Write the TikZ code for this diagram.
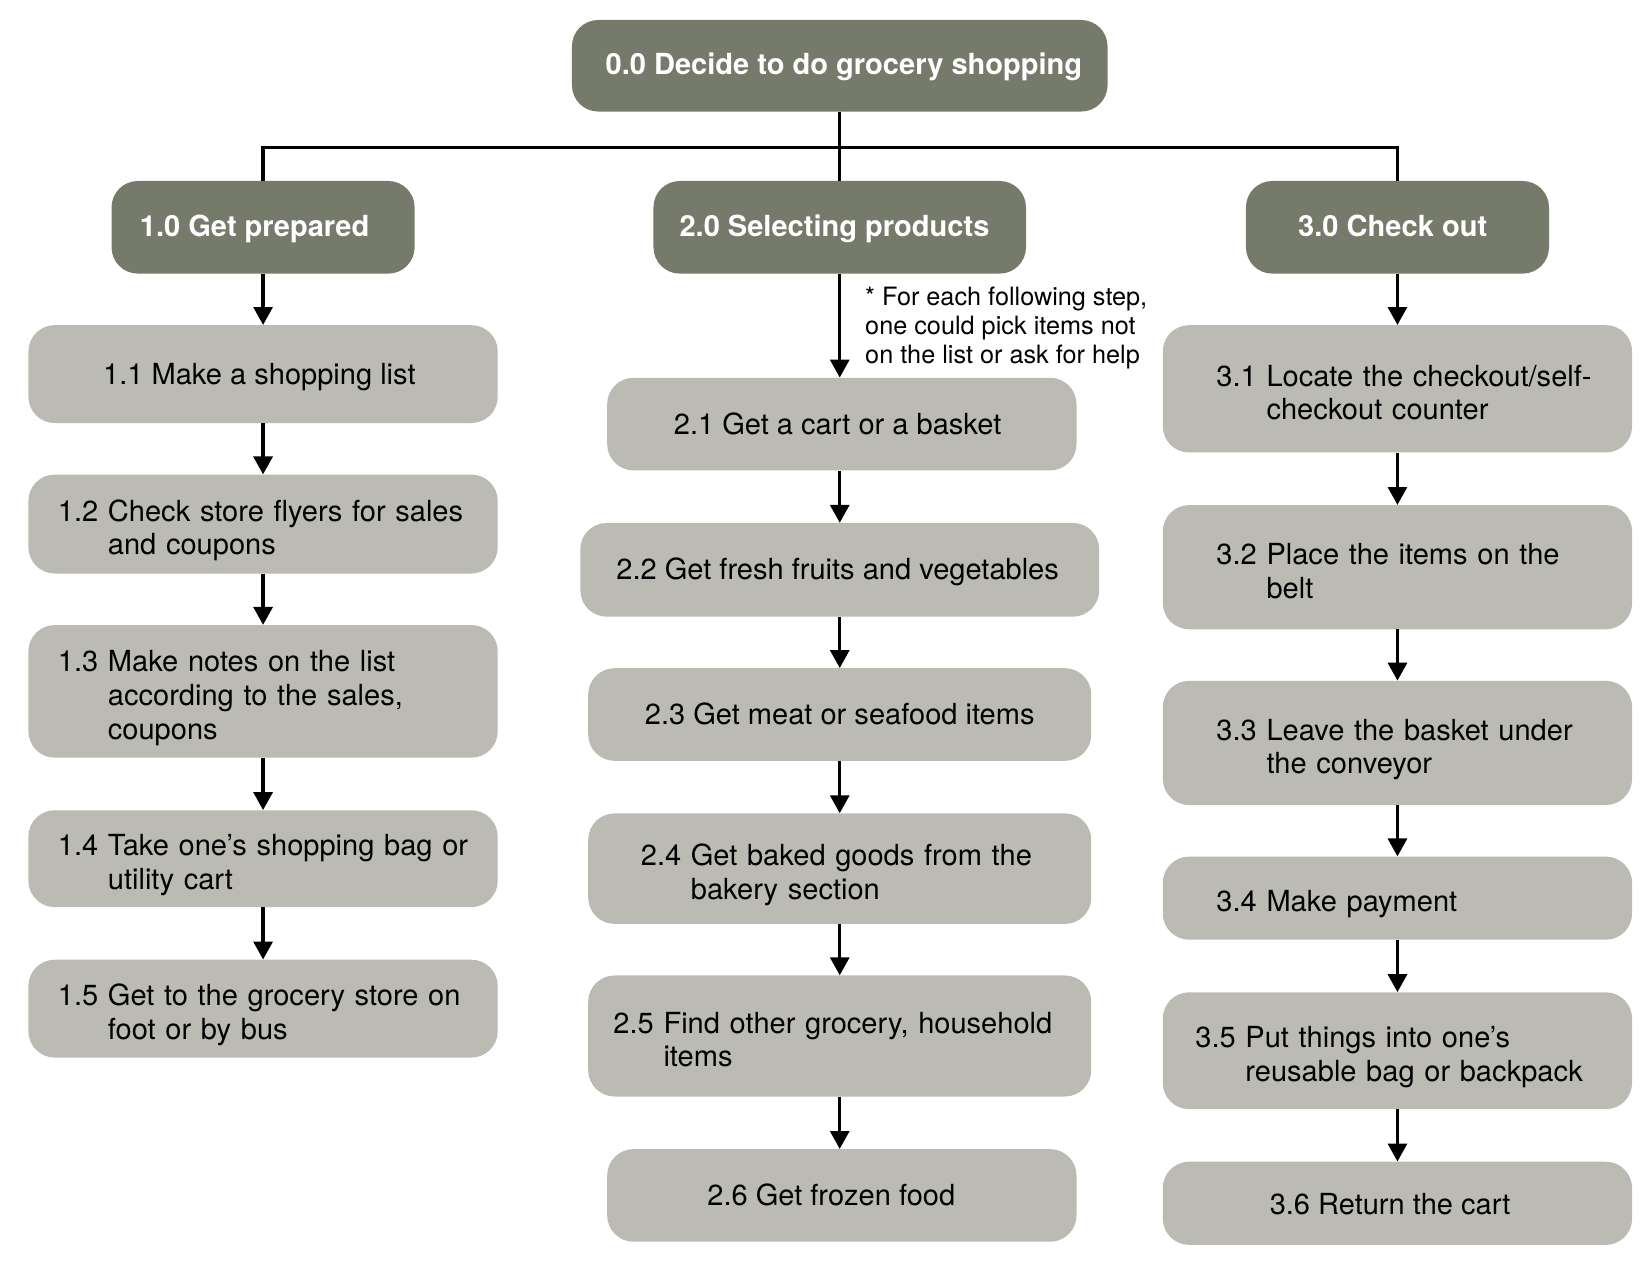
\documentclass[tikz,border=0pt]{standalone}
\usepackage{fontspec}
\setmainfont{TeX Gyre Heros}
\usetikzlibrary{arrows.meta}
\definecolor{darkbox}{RGB}{118,122,106}
\definecolor{lightbox}{RGB}{187,187,180}
\newcommand\hng[2]{\raisebox{-7pt}[\height][\depth]{\begin{tabular}{@{}l@{\ }l@{}}#1&#2\end{tabular}}}
\begin{document}
\begin{tikzpicture}[x=1pt,y=-1pt,
  box/.style={rounded corners=25pt, inner sep=0pt, align=center, font=\fontsize{27.6}{32}\selectfont},
  dbox/.style={box, fill=darkbox, text=white, font=\bfseries\fontsize{27.6}{32}\selectfont, text height=20pt, text depth=3pt},
  lbox/.style={box, fill=lightbox},
  one/.style={text height=22pt, text depth=3pt},
  tw/.style={text width=#1, align=left},
  arr/.style={-{Triangle[width=18pt,length=17pt]}, line width=3pt},
  link/.style={line width=3pt},
  note/.style={inner sep=0pt, align=left, font=\fontsize{24}{27.5}\selectfont}]
\useasboundingbox (0,0) rectangle (1568,1212);
% top
\node[dbox, minimum width=509pt, minimum height=87pt] (n00) at (798,62.5) {\hspace*{8pt}0.0 Decide to do grocery shopping};
\node[dbox, minimum width=288pt, minimum height=88pt] (n10) at (250,216) {\hspace*{-16pt}1.0 Get prepared};
\node[dbox, minimum width=354pt, minimum height=88pt] (n20) at (798,216) {\hspace*{-10pt}2.0 Selecting products};
\node[dbox, minimum width=288pt, minimum height=88pt] (n30) at (1328,216) {\hspace*{-9pt}3.0 Check out};
\coordinate (bus) at (798,140);
\draw[link] (n00.south) -- (n20.north);
\draw[link] (n10.north) -- (n10.north |- bus) -- (n30.north |- bus) -- (n30.north);
% column 1
\node[lbox, one, minimum width=446pt, minimum height=93pt] (n11) at (250,355.5) {\hspace*{-7pt}1.1 Make a shopping list};
\node[lbox, tw=390pt, minimum width=446pt, minimum height=94pt] (n12) at (250,498) {\hng{1.2}{Check store flyers for sales\\ & and coupons}};
\node[lbox, tw=390pt, minimum width=446pt, minimum height=126pt] (n13) at (250,657) {\hng{1.3}{Make notes on the list\\ & according to the sales,\\ & coupons}};
\node[lbox, tw=390pt, minimum width=446pt, minimum height=92pt] (n14) at (250,816) {\hng{1.4}{Take one’s shopping bag or\\ & utility cart}};
\node[lbox, tw=390pt, minimum width=446pt, minimum height=93pt] (n15) at (250,958.5) {\hng{1.5}{Get to the grocery store on\\ & foot or by bus}};
% column 2
\node[lbox, one, minimum width=446pt, minimum height=88pt] (n21) at (800,403) {\hspace*{-8pt}2.1 Get a cart or a basket};
\node[lbox, one, minimum width=493pt, minimum height=89pt] (n22) at (798,541.5) {\hspace*{-4pt}2.2 Get fresh fruits and vegetables};
\node[lbox, one, minimum width=478pt, minimum height=88pt] (n23) at (798,679) {2.3 Get meat or seafood items};
\node[lbox, tw=378pt, minimum width=478pt, minimum height=105pt] (n24) at (798,825.5) {\hng{2.4}{Get baked goods from the\\ & bakery section}};
\node[lbox, tw=430pt, minimum width=478pt, minimum height=115pt] (n25) at (798,984.5) {\hng{2.5}{Find other grocery, household\\ & items}};
\node[lbox, one, minimum width=446pt, minimum height=88pt] (n26) at (800,1136) {\hspace*{-20pt}2.6 Get frozen food};
% column 3
\node[lbox, tw=344pt, minimum width=446pt, minimum height=121pt] (n31) at (1328,369.5) {\hng{3.1}{Locate the checkout/self-\\ & checkout counter}};
\node[lbox, tw=344pt, minimum width=446pt, minimum height=118pt] (n32) at (1328,539) {\hng{3.2}{Place the items on the\\ & belt}};
\node[lbox, tw=344pt, minimum width=446pt, minimum height=118pt] (n33) at (1328,706) {\hng{3.3}{Leave the basket under\\ & the conveyor}};
\node[lbox, tw=344pt, text height=29pt, text depth=3pt, minimum width=446pt, minimum height=79pt] (n34) at (1328,853.5) {3.4 Make payment};
\node[lbox, tw=384pt, minimum width=446pt, minimum height=111pt] (n35) at (1328,998.5) {\hng{3.5}{Put things into one’s\\ & reusable bag or backpack}};
\node[lbox, text height=25pt, text depth=3pt, minimum width=446pt, minimum height=79pt] (n36) at (1328,1143.5) {\hspace*{-14pt}3.6 Return the cart};
% note
\node[note, anchor=north west] (nt) at (822,273) {* For each following step,\\ one could pick items not\\ on the list or ask for help};
% arrows
\draw[arr] (n10) -- (n11);
\draw[arr] (n11) -- (n12);
\draw[arr] (n12) -- (n13);
\draw[arr] (n13) -- (n14);
\draw[arr] (n14) -- (n15);
\draw[arr] (n20.south) -- (n20.south |- n21.north);
\draw[arr] (n21.south -| n20) -- (n22);
\draw[arr] (n22) -- (n23);
\draw[arr] (n23) -- (n24);
\draw[arr] (n24) -- (n25);
\draw[arr] (n25.south) -- (n25.south |- n26.north);
\draw[arr] (n30) -- (n31);
\draw[arr] (n31) -- (n32);
\draw[arr] (n32) -- (n33);
\draw[arr] (n33) -- (n34);
\draw[arr] (n34) -- (n35);
\draw[arr] (n35) -- (n36);
\end{tikzpicture}
\end{document}
